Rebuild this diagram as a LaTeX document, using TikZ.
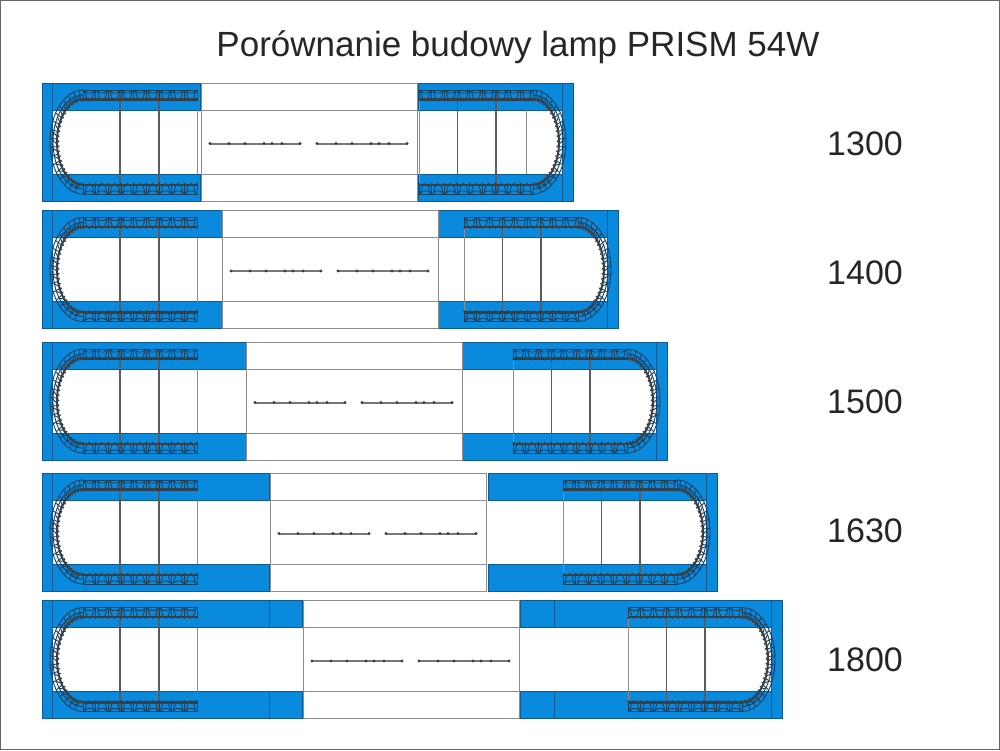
\documentclass[tikz,border=0pt]{standalone}
\usepackage{fontspec}
\setmainfont{Liberation Sans}
\definecolor{lampBlue}{HTML}{0A8ADC}
\definecolor{lampEdge}{HTML}{0E5A90}
\definecolor{lampLink}{HTML}{17405F}
\definecolor{lampDark}{HTML}{3A3F44}
\definecolor{lampGrey}{HTML}{8C8C8C}

% one straight run of chain links, upper and lower
\newcommand{\chainrun}[1]{
    \foreach \flip in {1,-1} {
        \begin{scope}[yscale=\flip]
            \draw[linkline] (#1,-52) rectangle ++(114,10);
            \foreach \k in {0,...,8} {
                \draw[linkline] (#1+\k*12.67,-52) -- ++(0,10);
                \draw[linkline] (#1+\k*12.67+1.5,-51) -- ++(2.5,8) -- ++(5,0) -- ++(2.5,-8) -- ++(-3,2) -- ++(-4,0) -- cycle;
            }
            \draw[chainline] (#1,-43) -- ++(114,0);
            \foreach \k in {0,...,18} {
                \fill[lampDark] (#1+\k*6.33,-41.5) circle (1);
            }
        \end{scope}
    }
}
% the bend of the chain, 1 bulges to the right, -1 to the left
\newcommand{\chainbend}[2]{
    \begin{scope}[shift={(#1,0)},xscale=#2]
        \draw[linkline] (0,-52) arc[start angle=-90,end angle=90,x radius=33,y radius=52];
        \draw[linkline] (0,-47) arc[start angle=-90,end angle=90,x radius=30,y radius=47];
        \foreach \a in {-84,-74,...,84} {
            \draw[linkline] (\a:25 and 42) -- (\a:33 and 52);
            \draw[linkline] (\a+2:30 and 47) -- (\a+7:26 and 43);
        }
        \draw[chainline] (0,-43) arc[start angle=-90,end angle=90,x radius=26,y radius=43];
        \foreach \a in {-85,-78,...,85} {
            \fill[lampDark] (\a:24.5 and 41.5) circle (1);
        }
    \end{scope}
}
% one tube with its holders
\newcommand{\lamptube}[1]{
    \draw[tubeline] (#1,1.5) -- ++(91,0);
    \foreach \t in {0,19,35,54,62,72,90} {
        \fill[lampDark] (#1+\t,1.5) circle (1.7);
    }
}
% mid line, end of left blue, left of centre, start of right blue, right strip
\newcommand{\lamprow}[5]{
    \begin{scope}[shift={(0,#1)}]
        \fill[white] (52,-32) rectangle (#5,32);
        \draw[bluepart] (42,-59) rectangle (52,59);
        \draw[bluepart] (52,-59) rectangle (#2,-32);
        \draw[bluepart] (52,32) rectangle (#2,59);
        \draw[bluepart] (#4,-59) rectangle (#5,-32);
        \draw[bluepart] (#4,32) rectangle (#5,59);
        \draw[bluepart] (#5,-59) rectangle (#5+11,59);
        \draw[centreline] (#3,-59) rectangle (#3+216.5,59);
        \draw[centreline] (#3,-32) -- (#3+216.5,-32);
        \draw[centreline] (#3,32) -- (#3+216.5,32);
        \foreach \x in {120,159} {
            \draw[ribline] (\x,-52) -- (\x,52);
        }
        \foreach \x in {38.5,77} {
            \draw[ribline] (#5-143+\x,-52) -- (#5-143+\x,52);
        }
        \draw[centreline] (#5-143,-52) -- (#5-143,52);
        \draw[centreline] (197,-32) -- (197,32);
        \chainrun{83}
        \chainbend{83}{-1}
        \chainrun{#5-143}
        \chainbend{#5-29}{1}
        \lamptube{#3+9}
        \lamptube{#3+116}
    \end{scope}
}

\begin{document}
\begin{tikzpicture}[
            x=1pt,
            y=-1pt,
            bluepart/.style={
                fill=lampBlue,
                draw=lampEdge,
                line width=1pt
            },
            centreline/.style={
                draw=lampGrey,
                line width=1pt
            },
            ribline/.style={
                draw=lampDark!85,
                line width=1.4pt
            },
            linkline/.style={
                draw=lampLink,
                line width=0.9pt
            },
            chainline/.style={
                draw=lampDark,
                line width=2pt
            },
            tubeline/.style={
                draw=lampGrey!85!black,
                line width=2pt
            },
            titlelabel/.style={
                font=\fontsize{35}{35}\selectfont,
                text=black!85,
                inner sep=0pt
            },
            rowlabel/.style={
                font=\fontsize{34}{34}\selectfont,
                text=black!85,
                inner sep=0pt
            }
        ]
            \useasboundingbox (0,0) rectangle (1000,750);
            \fill[white] (0,0) rectangle (1000,750);
            \draw[lampDark!80,line width=1.2pt] (0.6,0.6) rectangle (999.4,749.4);

            \node (title) [titlelabel] at (518,47) {Porównanie budowy lamp PRISM 54W};

            \lamprow{142}{200}{201}{418}{562}
            \lamprow{269.5}{222}{222}{438}{607}
            \lamprow{401}{246}{246}{462}{656}
            \lamprow{532}{269}{270}{488}{706}
            \lamprow{659.5}{302}{303}{520}{771}

            % extra lines of the shorter and longer lamps
            \draw[centreline] (526,110) -- (526,174);
            \draw[bluepart] (269,601) -- (269,628);
            \draw[bluepart] (269,691) -- (269,718);
            \draw[bluepart] (554,601) -- (554,628);
            \draw[bluepart] (554,691) -- (554,718);

            \node (len1300) [rowlabel] at (865,144) {1300};
            \node (len1400) [rowlabel] at (865,273) {1400};
            \node (len1500) [rowlabel] at (865,402) {1500};
            \node (len1630) [rowlabel] at (865,531) {1630};
            \node (len1800) [rowlabel] at (865,660) {1800};
        \end{tikzpicture}
\end{document}
